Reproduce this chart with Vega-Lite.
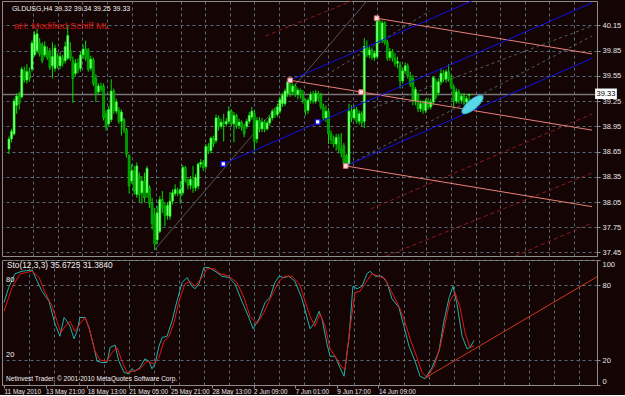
{
"$schema": "https://vega.github.io/schema/vega-lite/v6.json",
"background": "#140404",
"padding": {"left": 0, "top": 0, "right": 5, "bottom": 0},
"spacing": 2,
"config": {
  "view": {"stroke": "#8c8c8c", "strokeWidth": 1},
  "axis": {"labelFont": "Liberation Sans", "labelFontSize": 7.5, "labelColor": "#e6e6e6", "gridColor": "#566b78", "gridDash": [3, 3], "gridWidth": 1, "domainColor": "#8c8c8c", "tickColor": "#8c8c8c", "tickSize": 3, "labelPadding": 2, "labelOverlap": false, "tickCount": 100},
  "text": {"font": "Liberation Sans", "fontSize": 7.5}
},
"datasets": {
  "candles": [
{"i":0,"o":38.68,"h":38.83,"l":38.62,"c":38.80},{"i":1,"o":38.80,"h":38.92,"l":38.76,"c":38.89},{"i":2,"o":38.86,"h":39.28,"l":38.84,"c":39.25},{"i":3,"o":39.20,"h":39.34,"l":39.10,"c":39.31},{"i":4,"o":39.31,"h":39.36,"l":39.15,"c":39.22},{"i":5,"o":39.30,"h":39.66,"l":39.28,"c":39.63},{"i":6,"o":39.61,"h":39.66,"l":39.47,"c":39.50},{"i":7,"o":39.50,"h":39.69,"l":39.46,"c":39.60},{"i":8,"o":39.60,"h":39.65,"l":39.48,"c":39.52},{"i":9,"o":39.63,"h":39.97,"l":39.60,"c":39.94},
{"i":10,"o":39.80,"h":40.08,"l":39.78,"c":40.04},{"i":11,"o":39.85,"h":40.11,"l":39.82,"c":40.05},{"i":12,"o":39.94,"h":40.00,"l":39.78,"c":39.81},{"i":13,"o":39.92,"h":39.95,"l":39.70,"c":39.73},{"i":14,"o":39.80,"h":39.96,"l":39.77,"c":39.90},{"i":15,"o":39.85,"h":39.90,"l":39.74,"c":39.77},{"i":16,"o":39.85,"h":39.88,"l":39.62,"c":39.65},{"i":17,"o":39.67,"h":39.95,"l":39.52,"c":39.78},{"i":18,"o":39.64,"h":39.92,"l":39.60,"c":39.88},{"i":19,"o":39.78,"h":39.82,"l":39.64,"c":39.67},
{"i":20,"o":39.67,"h":39.83,"l":39.63,"c":39.78},{"i":21,"o":39.76,"h":39.80,"l":39.66,"c":39.70},{"i":22,"o":39.73,"h":39.96,"l":39.70,"c":39.90},{"i":23,"o":39.76,"h":40.14,"l":39.74,"c":40.03},{"i":24,"o":39.85,"h":39.95,"l":39.73,"c":39.76},{"i":25,"o":39.73,"h":39.78,"l":39.23,"c":39.52},{"i":26,"o":39.58,"h":39.75,"l":39.55,"c":39.70},{"i":27,"o":39.70,"h":39.76,"l":39.58,"c":39.62},{"i":28,"o":39.64,"h":39.84,"l":39.60,"c":39.80},{"i":29,"o":39.80,"h":39.92,"l":39.75,"c":39.87},
{"i":30,"o":39.87,"h":39.97,"l":39.73,"c":39.76},{"i":31,"o":39.86,"h":39.88,"l":39.60,"c":39.63},{"i":32,"o":39.64,"h":39.79,"l":39.61,"c":39.75},{"i":33,"o":39.74,"h":39.77,"l":39.43,"c":39.46},{"i":34,"o":39.52,"h":39.57,"l":39.24,"c":39.33},{"i":35,"o":39.36,"h":39.46,"l":39.33,"c":39.43},{"i":36,"o":39.43,"h":39.47,"l":39.36,"c":39.39},{"i":37,"o":39.43,"h":39.46,"l":39.02,"c":39.05},{"i":38,"o":39.10,"h":39.14,"l":38.90,"c":38.94},{"i":39,"o":38.98,"h":39.19,"l":38.95,"c":39.15},
{"i":40,"o":39.03,"h":39.51,"l":39.00,"c":39.37},{"i":41,"o":39.37,"h":39.40,"l":39.10,"c":39.14},{"i":42,"o":39.13,"h":39.28,"l":39.10,"c":39.24},{"i":43,"o":39.14,"h":39.18,"l":38.98,"c":39.01},{"i":44,"o":39.01,"h":39.15,"l":38.84,"c":39.12},{"i":45,"o":39.03,"h":39.05,"l":38.87,"c":38.91},{"i":46,"o":38.91,"h":38.93,"l":38.58,"c":38.62},{"i":47,"o":38.60,"h":38.62,"l":38.15,"c":38.24},{"i":48,"o":38.30,"h":38.50,"l":38.27,"c":38.42},{"i":49,"o":38.42,"h":38.48,"l":38.14,"c":38.18},
{"i":50,"o":38.14,"h":38.52,"l":38.10,"c":38.48},{"i":51,"o":38.36,"h":38.40,"l":38.05,"c":38.14},{"i":52,"o":38.16,"h":38.36,"l":38.03,"c":38.30},{"i":53,"o":38.30,"h":38.40,"l":38.05,"c":38.10},{"i":54,"o":38.16,"h":38.48,"l":38.10,"c":38.45},{"i":55,"o":38.22,"h":38.25,"l":37.98,"c":38.03},{"i":56,"o":38.03,"h":38.10,"l":37.72,"c":37.79},{"i":57,"o":37.90,"h":37.98,"l":37.48,"c":37.55},{"i":58,"o":37.60,"h":38.00,"l":37.55,"c":37.92},{"i":59,"o":37.70,"h":38.12,"l":37.68,"c":38.08},
{"i":60,"o":38.08,"h":38.18,"l":37.92,"c":37.98},{"i":61,"o":38.00,"h":38.04,"l":37.76,"c":37.89},{"i":62,"o":37.89,"h":38.05,"l":37.84,"c":38.01},{"i":63,"o":37.88,"h":38.17,"l":37.84,"c":38.06},{"i":64,"o":38.06,"h":38.20,"l":38.02,"c":38.16},{"i":65,"o":38.15,"h":38.26,"l":38.12,"c":38.20},{"i":66,"o":38.18,"h":38.22,"l":38.12,"c":38.16},{"i":67,"o":38.15,"h":38.30,"l":38.03,"c":38.20},{"i":68,"o":38.16,"h":38.49,"l":38.13,"c":38.46},{"i":69,"o":38.46,"h":38.48,"l":38.28,"c":38.31},
{"i":70,"o":38.31,"h":38.33,"l":38.20,"c":38.25},{"i":71,"o":38.25,"h":38.36,"l":38.20,"c":38.32},{"i":72,"o":38.30,"h":38.48,"l":38.16,"c":38.22},{"i":73,"o":38.22,"h":38.38,"l":38.18,"c":38.34},{"i":74,"o":38.24,"h":38.52,"l":38.20,"c":38.50},{"i":75,"o":38.50,"h":38.56,"l":38.46,"c":38.52},{"i":76,"o":38.52,"h":38.55,"l":38.42,"c":38.46},{"i":77,"o":38.47,"h":38.74,"l":38.44,"c":38.71},{"i":78,"o":38.71,"h":38.75,"l":38.62,"c":38.66},{"i":79,"o":38.66,"h":38.83,"l":38.63,"c":38.81},
{"i":80,"o":38.81,"h":38.84,"l":38.70,"c":38.74},{"i":81,"o":38.78,"h":39.09,"l":38.75,"c":39.05},{"i":82,"o":39.05,"h":39.08,"l":38.90,"c":38.95},{"i":83,"o":38.95,"h":39.04,"l":38.92,"c":39.00},{"i":84,"o":39.00,"h":39.10,"l":38.77,"c":38.98},{"i":85,"o":38.98,"h":39.05,"l":38.95,"c":39.01},{"i":86,"o":39.01,"h":39.19,"l":38.98,"c":39.13},{"i":87,"o":39.13,"h":39.15,"l":38.95,"c":38.98},{"i":88,"o":38.98,"h":39.12,"l":38.76,"c":39.08},{"i":89,"o":39.08,"h":39.10,"l":38.92,"c":38.96},
{"i":90,"o":38.96,"h":39.04,"l":38.92,"c":39.00},{"i":91,"o":39.00,"h":39.02,"l":38.90,"c":38.94},{"i":92,"o":38.94,"h":38.98,"l":38.82,"c":38.86},{"i":93,"o":38.95,"h":39.04,"l":38.92,"c":39.01},{"i":94,"o":39.01,"h":39.12,"l":38.98,"c":39.08},{"i":95,"o":39.06,"h":39.18,"l":39.03,"c":39.13},{"i":96,"o":39.10,"h":39.14,"l":38.66,"c":38.77},{"i":97,"o":38.80,"h":39.06,"l":38.75,"c":39.02},{"i":98,"o":39.02,"h":39.06,"l":38.88,"c":38.92},{"i":99,"o":38.92,"h":39.05,"l":38.88,"c":39.00},
{"i":100,"o":39.00,"h":39.03,"l":38.88,"c":38.92},{"i":101,"o":38.92,"h":39.02,"l":38.90,"c":38.99},{"i":102,"o":38.99,"h":39.08,"l":38.96,"c":39.05},{"i":103,"o":39.05,"h":39.16,"l":39.02,"c":39.13},{"i":104,"o":39.13,"h":39.17,"l":39.05,"c":39.09},{"i":105,"o":39.09,"h":39.22,"l":39.06,"c":39.18},{"i":106,"o":39.13,"h":39.30,"l":39.10,"c":39.27},{"i":107,"o":39.22,"h":39.35,"l":39.18,"c":39.32},{"i":108,"o":39.22,"h":39.40,"l":39.19,"c":39.37},{"i":109,"o":39.34,"h":39.49,"l":39.30,"c":39.48},
{"i":110,"o":39.45,"h":39.50,"l":39.30,"c":39.34},{"i":111,"o":39.36,"h":39.46,"l":39.32,"c":39.43},{"i":112,"o":39.43,"h":39.46,"l":39.30,"c":39.33},{"i":113,"o":39.33,"h":39.41,"l":39.27,"c":39.38},{"i":114,"o":39.38,"h":39.40,"l":39.28,"c":39.33},{"i":115,"o":39.33,"h":39.38,"l":39.22,"c":39.26},{"i":116,"o":39.26,"h":39.28,"l":39.08,"c":39.14},{"i":117,"o":39.14,"h":39.29,"l":39.10,"c":39.26},{"i":118,"o":39.26,"h":39.36,"l":39.22,"c":39.33},{"i":119,"o":39.33,"h":39.37,"l":39.22,"c":39.25},
{"i":120,"o":39.25,"h":39.38,"l":39.22,"c":39.34},{"i":121,"o":39.34,"h":39.37,"l":39.25,"c":39.29},{"i":122,"o":39.32,"h":39.35,"l":39.15,"c":39.18},{"i":123,"o":39.18,"h":39.22,"l":39.02,"c":39.05},{"i":124,"o":39.05,"h":39.20,"l":39.00,"c":39.13},{"i":125,"o":39.13,"h":39.17,"l":38.74,"c":38.86},{"i":126,"o":38.86,"h":38.90,"l":38.74,"c":38.79},{"i":127,"o":38.79,"h":38.84,"l":38.70,"c":38.74},{"i":128,"o":38.74,"h":38.86,"l":38.66,"c":38.82},{"i":129,"o":38.82,"h":38.86,"l":38.63,"c":38.68},
{"i":130,"o":38.68,"h":38.87,"l":38.58,"c":38.63},{"i":131,"o":38.72,"h":38.75,"l":38.48,"c":38.51},{"i":132,"o":38.60,"h":38.62,"l":38.48,"c":38.49},{"i":133,"o":38.50,"h":39.22,"l":38.48,"c":39.13},{"i":134,"o":39.13,"h":39.20,"l":39.00,"c":39.05},{"i":135,"o":39.05,"h":39.20,"l":39.02,"c":39.15},{"i":136,"o":39.15,"h":39.18,"l":38.98,"c":39.01},{"i":137,"o":39.01,"h":39.14,"l":38.97,"c":39.10},{"i":138,"o":39.10,"h":39.13,"l":38.95,"c":38.99},{"i":139,"o":39.01,"h":40.00,"l":38.93,"c":39.90},
{"i":140,"o":39.90,"h":39.97,"l":39.77,"c":39.80},{"i":141,"o":39.80,"h":39.90,"l":39.76,"c":39.86},{"i":142,"o":39.86,"h":39.89,"l":39.74,"c":39.77},{"i":143,"o":39.77,"h":39.85,"l":39.73,"c":39.82},{"i":144,"o":39.78,"h":40.23,"l":39.75,"c":40.20},{"i":145,"o":40.20,"h":40.22,"l":39.94,"c":39.97},{"i":146,"o":39.97,"h":40.21,"l":39.94,"c":40.18},{"i":147,"o":40.18,"h":40.20,"l":39.92,"c":39.95},{"i":148,"o":39.95,"h":39.98,"l":39.73,"c":39.76},{"i":149,"o":39.77,"h":39.88,"l":39.73,"c":39.84},
{"i":150,"o":39.84,"h":39.87,"l":39.72,"c":39.76},{"i":151,"o":39.76,"h":39.82,"l":39.66,"c":39.70},{"i":152,"o":39.70,"h":39.78,"l":39.64,"c":39.72},{"i":153,"o":39.68,"h":39.72,"l":39.40,"c":39.49},{"i":154,"o":39.49,"h":39.65,"l":39.46,"c":39.61},{"i":155,"o":39.61,"h":39.71,"l":39.57,"c":39.67},{"i":156,"o":39.67,"h":39.70,"l":39.52,"c":39.55},{"i":157,"o":39.55,"h":39.60,"l":39.42,"c":39.45},{"i":158,"o":39.52,"h":39.56,"l":39.20,"c":39.25},{"i":159,"o":39.25,"h":39.42,"l":39.20,"c":39.39},
{"i":160,"o":39.32,"h":39.35,"l":39.12,"c":39.16},{"i":161,"o":39.16,"h":39.26,"l":39.12,"c":39.22},{"i":162,"o":39.22,"h":39.26,"l":39.10,"c":39.14},{"i":163,"o":39.14,"h":39.28,"l":39.11,"c":39.25},{"i":164,"o":39.25,"h":39.29,"l":39.15,"c":39.18},{"i":165,"o":39.18,"h":39.28,"l":39.15,"c":39.24},{"i":166,"o":39.24,"h":39.55,"l":39.20,"c":39.53},{"i":167,"o":39.48,"h":39.52,"l":39.27,"c":39.30},{"i":168,"o":39.35,"h":39.52,"l":39.32,"c":39.48},{"i":169,"o":39.48,"h":39.64,"l":39.44,"c":39.58},
{"i":170,"o":39.58,"h":39.62,"l":39.48,"c":39.51},{"i":171,"o":39.51,"h":39.63,"l":39.47,"c":39.60},{"i":172,"o":39.60,"h":39.69,"l":39.48,"c":39.52},{"i":173,"o":39.52,"h":39.56,"l":39.39,"c":39.42},{"i":174,"o":39.42,"h":39.45,"l":39.17,"c":39.25},{"i":175,"o":39.25,"h":39.40,"l":39.22,"c":39.36},{"i":176,"o":39.36,"h":39.39,"l":39.22,"c":39.26},{"i":177,"o":39.26,"h":39.34,"l":39.22,"c":39.31},{"i":178,"o":39.31,"h":39.35,"l":39.21,"c":39.24},{"i":179,"o":39.24,"h":39.31,"l":39.21,"c":39.28},
{"i":180,"o":39.32,"h":39.34,"l":39.25,"c":39.33}
  ],
  "pink": [
{"id":"a","i":110.0,"p":39.498},{"id":"a","i":228.08,"p":38.905},
{"id":"b","i":143.85,"p":40.236},{"id":"b","i":228.08,"p":39.812},
{"id":"c","i":131.73,"p":38.479},{"id":"c","i":228.08,"p":37.995}
  ],
  "blue": [
{"id":"m","i":83.85,"p":38.503},{"id":"m","i":228.08,"p":40.419},
{"id":"u","i":110.0,"p":39.498},{"id":"u","i":181.0,"p":40.441},
{"id":"l","i":131.73,"p":38.479},{"id":"l","i":228.08,"p":39.759}
  ],
  "graySolid": [
{"id":"g","i":56.92,"p":37.48},{"id":"g","i":140.0,"p":40.441}
  ],
  "grayDash": [
{"id":"g1","i":122.31,"p":39.525},{"id":"g1","i":164.62,"p":40.322},
{"id":"g2","i":131.92,"p":38.479},{"id":"g2","i":228.08,"p":40.025},
{"id":"g3","i":142.69,"p":39.169},{"id":"g3","i":228.08,"p":40.144}
  ],
  "redDash": [
{"id":"r0","i":100.38,"p":40.025},{"id":"r0","i":134.23,"p":40.441},
{"id":"r1","i":141.54,"p":37.967},{"id":"r1","i":228.08,"p":39.097},
{"id":"r2","i":147.69,"p":37.408},{"id":"r2","i":228.08,"p":38.395},
{"id":"r3","i":198.08,"p":37.408},{"id":"r3","i":228.08,"p":37.801}
  ],
  "pinkPts": [{"i":110.0,"p":39.498},{"i":143.85,"p":40.236},{"i":131.73,"p":38.479},{"i":137.79,"p":39.357}],
  "bluePts": [{"i":83.85,"p":38.503},{"i":120.77,"p":39.002}],
  "ellipse": [{"i":181.35,"p":39.21}],
  "stoK": [
{"i":0,"v":66},{"i":1.8,"v":78},{"i":4.2,"v":89},{"i":6.9,"v":91},{"i":10.8,"v":92},{"i":11.9,"v":87},{"i":14.6,"v":75},{"i":17.3,"v":67},{"i":19.6,"v":49},{"i":21.5,"v":39},{"i":23.1,"v":54},{"i":24.2,"v":51},{"i":25.4,"v":47},{"i":26.9,"v":37},{"i":28.1,"v":43},{"i":29.2,"v":54},{"i":31.2,"v":54},{"i":32.7,"v":46},{"i":34.6,"v":30},{"i":35.8,"v":19},{"i":37.7,"v":18},{"i":39.6,"v":18},{"i":40.8,"v":30},{"i":42.7,"v":32},{"i":44.2,"v":19},{"i":46.2,"v":10},{"i":48.1,"v":9},{"i":49.2,"v":13},{"i":50.4,"v":11},{"i":52.3,"v":14},{"i":54.2,"v":21},{"i":55.8,"v":19},{"i":56.9,"v":13},{"i":58.1,"v":17},{"i":59.6,"v":31},{"i":60.8,"v":38},{"i":62.7,"v":39},{"i":64.6,"v":51},{"i":66.5,"v":67},{"i":68.5,"v":82},{"i":70.4,"v":86},{"i":72.3,"v":79},{"i":73.5,"v":77},{"i":75.0,"v":81},{"i":76.9,"v":94},{"i":78.8,"v":94},{"i":81.2,"v":91},{"i":83.8,"v":87},{"i":86.5,"v":86},{"i":88.8,"v":81},{"i":91.5,"v":67},{"i":94.2,"v":54},{"i":95.8,"v":45},{"i":98.1,"v":53},{"i":100.4,"v":66},{"i":102.3,"v":70},{"i":104.2,"v":82},{"i":105.8,"v":87},{"i":107.7,"v":86},{"i":109.6,"v":87},{"i":111.9,"v":83},{"i":114.6,"v":69},{"i":117.7,"v":45},{"i":119.2,"v":49},{"i":121.2,"v":59},{"i":122.3,"v":53},{"i":124.2,"v":33},{"i":125.4,"v":23},{"i":127.3,"v":23},{"i":129.2,"v":14},{"i":130.8,"v":7},{"i":132.7,"v":38},{"i":134.2,"v":79},{"i":135.8,"v":77},{"i":137.7,"v":79},{"i":139.6,"v":89},{"i":140.8,"v":91},{"i":142.7,"v":87},{"i":145.4,"v":87},{"i":147.3,"v":82},{"i":149.2,"v":69},{"i":151.9,"v":62},{"i":153.8,"v":47},{"i":155.8,"v":31},{"i":158.1,"v":19},{"i":160.0,"v":7},{"i":161.9,"v":5},{"i":164.6,"v":14},{"i":167.3,"v":27},{"i":169.2,"v":51},{"i":171.2,"v":70},{"i":172.7,"v":79},{"i":174.2,"v":65},{"i":176.2,"v":39},{"i":178.1,"v":29},{"i":179.2,"v":30},{"i":180.8,"v":35.67}
  ],
  "stoD": [
{"i":0,"v":59},{"i":3.1,"v":78},{"i":6.2,"v":89},{"i":10.8,"v":91},{"i":13.5,"v":86},{"i":15.8,"v":74},{"i":18.5,"v":63},{"i":20.4,"v":51},{"i":21.9,"v":42},{"i":23.5,"v":47},{"i":25.4,"v":51},{"i":27.3,"v":43},{"i":29.2,"v":49},{"i":31.2,"v":54},{"i":33.1,"v":43},{"i":35.0,"v":27},{"i":36.9,"v":20},{"i":39.6,"v":19},{"i":41.5,"v":26},{"i":43.5,"v":30},{"i":45.4,"v":19},{"i":47.3,"v":10},{"i":50.0,"v":11},{"i":52.3,"v":13},{"i":55.0,"v":19},{"i":57.7,"v":17},{"i":59.6,"v":22},{"i":61.5,"v":35},{"i":63.5,"v":39},{"i":65.4,"v":50},{"i":67.3,"v":67},{"i":69.6,"v":81},{"i":71.5,"v":83},{"i":73.5,"v":79},{"i":76.2,"v":86},{"i":78.1,"v":93},{"i":80.8,"v":93},{"i":83.1,"v":89},{"i":86.5,"v":87},{"i":89.6,"v":82},{"i":92.3,"v":70},{"i":94.6,"v":55},{"i":97.3,"v":49},{"i":100.0,"v":58},{"i":101.9,"v":67},{"i":103.8,"v":75},{"i":105.8,"v":83},{"i":108.1,"v":87},{"i":110.8,"v":87},{"i":113.5,"v":81},{"i":114.6,"v":75},{"i":115.8,"v":67},{"i":117.7,"v":55},{"i":119.6,"v":47},{"i":121.5,"v":57},{"i":123.5,"v":47},{"i":125.4,"v":29},{"i":127.3,"v":23},{"i":130.0,"v":14},{"i":131.2,"v":13},{"i":133.1,"v":46},{"i":135.0,"v":74},{"i":136.9,"v":75},{"i":138.8,"v":81},{"i":141.5,"v":89},{"i":144.2,"v":87},{"i":146.5,"v":85},{"i":149.2,"v":74},{"i":151.9,"v":63},{"i":153.8,"v":53},{"i":156.2,"v":37},{"i":158.8,"v":22},{"i":160.8,"v":10},{"i":162.7,"v":6},{"i":165.4,"v":15},{"i":167.7,"v":30},{"i":169.6,"v":49},{"i":171.5,"v":67},{"i":173.5,"v":74},{"i":175.4,"v":62},{"i":177.3,"v":42},{"i":179.2,"v":30},{"i":180.8,"v":31.38}
  ],
  "stoTrend": [{"i":162.0,"v":5.6},{"i":228.08,"v":86.6}]
},
"vconcat": [
{
  "width": 595, "height": 255,
  "layer": [
    {"data": {"name": "graySolid"}, "mark": {"type": "line", "color": "#555555", "strokeWidth": 1, "clip": true},
     "encoding": {
       "x": {"field": "i", "type": "quantitative", "scale": {"domain": [-0.77, 228.08], "nice": false, "zero": false}, "title": null,
             "axis": {"orient": "bottom", "values": [9.5,19.1,28.7,38.3,48.0,57.6,67.2,76.8,86.4,96.0,105.6,115.3,124.9,134.5,144.1,153.7,163.3,172.9,182.6,192.2,201.8,211.4,221.0], "tickCount": 100, "labels": false, "ticks": false, "domain": false, "grid": true}},
       "y": {"field": "p", "type": "quantitative", "scale": {"domain": [37.408, 40.441], "nice": false, "zero": false}, "title": null,
             "axis": {"orient": "right", "values": [37.45,37.75,38.05,38.35,38.65,38.95,39.25,39.55,39.85,40.15], "tickCount": 100, "format": ".2f", "grid": true, "labelOverlap": false, "labelBound": false}},
       "detail": {"field": "id"}}},
    {"data": {"values": [{}]}, "mark": {"type": "rule", "color": "#767676", "strokeWidth": 1.5},
     "encoding": {"y": {"datum": 39.33, "type": "quantitative", "scale": {"domain": [37.408, 40.441], "nice": false, "zero": false}, "title": null}}},
    {"data": {"name": "grayDash"}, "mark": {"type": "line", "color": "#4f6060", "strokeWidth": 1, "strokeDash": [3, 3], "clip": true},
     "encoding": {
       "x": {"field": "i", "type": "quantitative", "scale": {"domain": [-0.77, 228.08], "nice": false, "zero": false}, "title": null},
       "y": {"field": "p", "type": "quantitative", "scale": {"domain": [37.408, 40.441], "nice": false, "zero": false}, "title": null},
       "detail": {"field": "id"}}},
    {"data": {"name": "redDash"}, "mark": {"type": "line", "color": "#8a1c1c", "strokeWidth": 1, "strokeDash": [4, 3], "clip": true},
     "encoding": {
       "x": {"field": "i", "type": "quantitative", "scale": {"domain": [-0.77, 228.08], "nice": false, "zero": false}, "title": null},
       "y": {"field": "p", "type": "quantitative", "scale": {"domain": [37.408, 40.441], "nice": false, "zero": false}, "title": null},
       "detail": {"field": "id"}}},
    {"data": {"name": "candles"}, "mark": {"type": "rule", "color": "#00e000", "strokeWidth": 1},
     "encoding": {
       "x": {"field": "i", "type": "quantitative", "scale": {"domain": [-0.77, 228.08], "nice": false, "zero": false}, "title": null},
       "y": {"field": "l", "type": "quantitative", "scale": {"domain": [37.408, 40.441], "nice": false, "zero": false}, "title": null},
       "y2": {"field": "h"}}},
    {"data": {"name": "candles"}, "mark": {"type": "bar", "width": 2, "strokeWidth": 0.6},
     "encoding": {
       "x": {"field": "i", "type": "quantitative", "scale": {"domain": [-0.77, 228.08], "nice": false, "zero": false}, "title": null},
       "y": {"field": "o", "type": "quantitative", "scale": {"domain": [37.408, 40.441], "nice": false, "zero": false}, "title": null},
       "y2": {"field": "c"},
       "fill": {"condition": {"test": "datum.c >= datum.o", "value": "#8cff8c"}, "value": "#009400"},
       "stroke": {"condition": {"test": "datum.c >= datum.o", "value": "#00ff00"}, "value": "#00c800"}}},
    {"data": {"name": "pink"}, "mark": {"type": "line", "color": "#e8807a", "strokeWidth": 1, "clip": true},
     "encoding": {
       "x": {"field": "i", "type": "quantitative", "scale": {"domain": [-0.77, 228.08], "nice": false, "zero": false}, "title": null},
       "y": {"field": "p", "type": "quantitative", "scale": {"domain": [37.408, 40.441], "nice": false, "zero": false}, "title": null},
       "detail": {"field": "id"}}},
    {"data": {"name": "blue"}, "mark": {"type": "line", "color": "#1010e8", "strokeWidth": 1, "clip": true},
     "encoding": {
       "x": {"field": "i", "type": "quantitative", "scale": {"domain": [-0.77, 228.08], "nice": false, "zero": false}, "title": null},
       "y": {"field": "p", "type": "quantitative", "scale": {"domain": [37.408, 40.441], "nice": false, "zero": false}, "title": null},
       "detail": {"field": "id"}}},
    {"data": {"name": "pinkPts"}, "mark": {"type": "point", "shape": "square", "size": 22, "filled": true, "fill": "#ffe0e0", "stroke": "#e07070", "strokeWidth": 1, "opacity": 1},
     "encoding": {
       "x": {"field": "i", "type": "quantitative", "scale": {"domain": [-0.77, 228.08], "nice": false, "zero": false}, "title": null},
       "y": {"field": "p", "type": "quantitative", "scale": {"domain": [37.408, 40.441], "nice": false, "zero": false}, "title": null}}},
    {"data": {"name": "bluePts"}, "mark": {"type": "point", "shape": "square", "size": 20, "filled": true, "fill": "#ffffff", "stroke": "#1010ff", "strokeWidth": 1.2, "opacity": 1},
     "encoding": {
       "x": {"field": "i", "type": "quantitative", "scale": {"domain": [-0.77, 228.08], "nice": false, "zero": false}, "title": null},
       "y": {"field": "p", "type": "quantitative", "scale": {"domain": [37.408, 40.441], "nice": false, "zero": false}, "title": null}}},
    {"data": {"name": "ellipse"}, "mark": {"type": "point", "shape": "M-1,0A1,0.36,0,1,1,1,0A1,0.36,0,1,1,-1,0Z", "size": 700, "angle": -40, "filled": true, "fill": "#5ad8e6", "stroke": "#2fb5c8", "strokeWidth": 1, "opacity": 1},
     "encoding": {
       "x": {"field": "i", "type": "quantitative", "scale": {"domain": [-0.77, 228.08], "nice": false, "zero": false}, "title": null},
       "y": {"field": "p", "type": "quantitative", "scale": {"domain": [37.408, 40.441], "nice": false, "zero": false}, "title": null}}},
    {"data": {"values": [{}]}, "mark": {"type": "text", "align": "left", "baseline": "middle", "color": "#f0f0f0", "fontSize": 7},
     "encoding": {
       "x": {"datum": 1.15, "type": "quantitative", "scale": {"domain": [-0.77, 228.08], "nice": false, "zero": false}, "title": null},
       "y": {"datum": 40.346, "type": "quantitative", "scale": {"domain": [37.408, 40.441], "nice": false, "zero": false}, "title": null},
       "text": {"value": "GLDUSG,H4  39.32 39.34 39.25 39.33"}}},
    {"data": {"values": [{}]}, "mark": {"type": "text", "align": "left", "baseline": "middle", "color": "#d81010", "fontSize": 9.5},
     "encoding": {
       "x": {"datum": 1.92, "type": "quantitative", "scale": {"domain": [-0.77, 228.08], "nice": false, "zero": false}, "title": null},
       "y": {"datum": 40.144, "type": "quantitative", "scale": {"domain": [37.408, 40.441], "nice": false, "zero": false}, "title": null},
       "text": {"value": "aH: Modified Schiff ML"}}},
    {"data": {"values": [{}]}, "mark": {"type": "rect", "color": "#ffffff"},
     "encoding": {
       "x": {"datum": 229.3, "type": "quantitative", "scale": {"domain": [-0.77, 228.08], "nice": false, "zero": false}, "title": null},
       "x2": {"datum": 237.8},
       "y": {"datum": 39.40, "type": "quantitative", "scale": {"domain": [37.408, 40.441], "nice": false, "zero": false}, "title": null},
       "y2": {"datum": 39.275}}},
    {"data": {"values": [{}]}, "mark": {"type": "text", "align": "center", "baseline": "middle", "color": "#000000"},
     "encoding": {
       "x": {"datum": 233.55, "type": "quantitative", "scale": {"domain": [-0.77, 228.08], "nice": false, "zero": false}, "title": null},
       "y": {"datum": 39.337, "type": "quantitative", "scale": {"domain": [37.408, 40.441], "nice": false, "zero": false}, "title": null},
       "text": {"value": "39.33"}}}
  ]
},
{
  "width": 595, "height": 125,
  "resolve": {"axis": {"x": "independent"}},
  "layer": [
    {"data": {"name": "stoK"}, "mark": {"type": "line", "color": "#20b2aa", "strokeWidth": 1},
     "encoding": {
       "x": {"field": "i", "type": "quantitative", "scale": {"domain": [-0.77, 228.08], "nice": false, "zero": false}, "title": null,
             "axis": {"orient": "top", "values": [9.5,19.1,28.7,38.3,48.0,57.6,67.2,76.8,86.4,96.0,105.6,115.3,124.9,134.5,144.1,153.7,163.3,172.9,182.6,192.2,201.8,211.4,221.0], "tickCount": 100, "labels": false, "ticks": false, "domain": false, "grid": true}},
       "y": {"field": "v", "type": "quantitative", "scale": {"domain": [0, 100], "nice": false, "zero": false}, "title": null,
             "axis": {"orient": "right", "values": [0, 20, 80, 100], "tickCount": 100, "labelFlush": true, "grid": true, "labelOverlap": false}}}},
    {"data": {"name": "stoD"}, "mark": {"type": "line", "color": "#e81414", "strokeWidth": 1},
     "encoding": {
       "x": {"field": "i", "type": "quantitative", "scale": {"domain": [-0.77, 228.08], "nice": false, "zero": false}, "title": null,
             "axis": {"orient": "bottom", "values": [0,16,32,48,64,80,96,112,128,144], "tickCount": 100, "labelExpr": "['11 May 2010','13 May 21:00','18 May 13:00','21 May 05:00','25 May 21:00','28 May 13:00','2 Jun 09:00','7 Jun 01:00','9 Jun 17:00','14 Jun 09:00'][round(datum.value/16)]", "labelAlign": "left", "labelFlush": false, "labelOverlap": false, "labelBound": false, "grid": false, "tickSize": 3, "labelPadding": 0, "labelFontSize": 6.4}},
       "y": {"field": "v", "type": "quantitative", "scale": {"domain": [0, 100], "nice": false, "zero": false}, "title": null}}},
    {"data": {"name": "stoTrend"}, "mark": {"type": "line", "color": "#d0381e", "strokeWidth": 1, "clip": true},
     "encoding": {
       "x": {"field": "i", "type": "quantitative", "scale": {"domain": [-0.77, 228.08], "nice": false, "zero": false}, "title": null, "axis": null},
       "y": {"field": "v", "type": "quantitative", "scale": {"domain": [0, 100], "nice": false, "zero": false}, "title": null}}},
    {"data": {"values": [{}]}, "mark": {"type": "text", "align": "left", "baseline": "middle", "color": "#f0f0f0", "fontSize": 8.3},
     "encoding": {
       "x": {"datum": 1.15, "type": "quantitative", "scale": {"domain": [-0.77, 228.08], "nice": false, "zero": false}, "title": null, "axis": null},
       "y": {"datum": 95.4, "type": "quantitative", "scale": {"domain": [0, 100], "nice": false, "zero": false}, "title": null},
       "text": {"value": "Sto(12,3,3) 35.6725 31.3840"}}},
    {"data": {"values": [{}]}, "mark": {"type": "text", "align": "left", "baseline": "bottom", "color": "#f0f0f0", "dy": -1},
     "encoding": {
       "x": {"datum": 0.8, "type": "quantitative", "scale": {"domain": [-0.77, 228.08], "nice": false, "zero": false}, "title": null, "axis": null},
       "y": {"datum": 80, "type": "quantitative", "scale": {"domain": [0, 100], "nice": false, "zero": false}, "title": null},
       "text": {"value": "80"}}},
    {"data": {"values": [{}]}, "mark": {"type": "text", "align": "left", "baseline": "bottom", "color": "#f0f0f0", "dy": -1},
     "encoding": {
       "x": {"datum": 0.8, "type": "quantitative", "scale": {"domain": [-0.77, 228.08], "nice": false, "zero": false}, "title": null, "axis": null},
       "y": {"datum": 20, "type": "quantitative", "scale": {"domain": [0, 100], "nice": false, "zero": false}, "title": null},
       "text": {"value": "20"}}},
    {"data": {"values": [{}]}, "mark": {"type": "text", "align": "left", "baseline": "middle", "color": "#f0f0f0", "fontSize": 6.5},
     "encoding": {
       "x": {"datum": 0.8, "type": "quantitative", "scale": {"domain": [-0.77, 228.08], "nice": false, "zero": false}, "title": null, "axis": null},
       "y": {"datum": 4.8, "type": "quantitative", "scale": {"domain": [0, 100], "nice": false, "zero": false}, "title": null},
       "text": {"value": "Netinvest Trader, © 2001-2010 MetaQuotes Software Corp."}}}
  ]
}
]
}
